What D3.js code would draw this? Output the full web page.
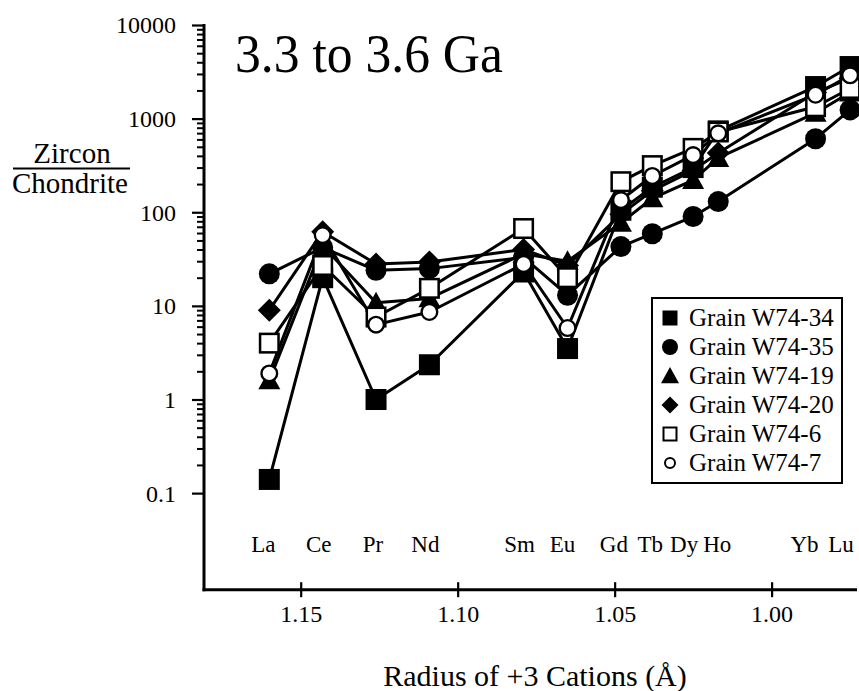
<!DOCTYPE html>
<html>
<head>
<meta charset="utf-8">
<script src="https://cdn.jsdelivr.net/npm/d3@7"></script>
<style>
  html, body { margin: 0; padding: 0; background: #fff; }
  svg { display: block; }
  text { font-family: "Liberation Serif", "Times New Roman", Times, serif; fill: #000; }
</style>
</head>
<body>
<svg id="chart" width="859" height="691" font-family='"Liberation Serif", "Times New Roman", Times, serif'></svg>
<script>
// ---------- data ----------
const elements = ["La","Ce","Pr","Nd","Sm","Eu","Gd","Tb","Dy","Ho","Yb","Lu"];
const radii    = [1.160,1.143,1.126,1.109,1.079,1.065,1.048,1.038,1.025,1.017,0.986,0.975];

const seriesNames = ["Grain W74-34","Grain W74-35","Grain W74-19","Grain W74-20","Grain W74-6","Grain W74-7"];
const seriesMarkers = ["filledSquare","filledCircle","filledTriangle","filledDiamond","openSquare","openCircle"];

const w74_34 = [0.14, 20, 1.0, 2.35, 23, 3.5, 105, 185, 300, 740, 2200, 3600];
const w74_35 = [22, 42, 24, 25, 33, 13, 43, 59, 90, 130, 610, 1240];
const w74_19 = [1.6, 44, 10.8, 12, 36, 30, 77, 141, 221, 380, 1150, 1900];
const w74_20 = [9, 62, 28, 29.5, 40, 27, 95, 170, 280, 430, 1900, 2700];
const w74_6  = [4.0, 27, 7.6, 15.4, 67, 20, 212, 315, 481, 720, 1340, 2100];
const w74_7  = [1.9, 57, 6.3, 8.6, 28, 5.8, 135, 244, 408, 697, 1800, 2900];
const seriesValues = [w74_34, w74_35, w74_19, w74_20, w74_6, w74_7];

const xTickValues = [1.15, 1.10, 1.05, 1.00];
const xTickLabels = ["1.15", "1.10", "1.05", "1.00"];
const yTickValues = [0.1, 1, 10, 100, 1000, 10000];
const yTickLabels = ["0.1", "1", "10", "100", "1000", "10000"];

const titleText = "3.3 to 3.6 Ga";
const xTitle = "Radius of +3 Cations (Å)";
const yTitleTop = "Zircon";
const yTitleBottom = "Chondrite";

// ---------- layout ----------
const FONT = '"Liberation Serif", "Times New Roman", Times, serif';
const svg = d3.select("#chart");
const axisLeftX = 204, axisRightX = 857, axisTopY = 24, axisBottomY = 589.7;

const x = d3.scaleLinear().domain([1.1808, 0.9728]).range([axisLeftX, axisRightX]);
const y = d3.scaleLog().domain([0.0093, 10000]).range([axisBottomY, 25]);

// label horizontal nudges (layout only), in px relative to the element's position
const labelNudge = [-6, -4, -3, -4, -4, -5, -7, -2, -9, -1, -11, -9];

// ---------- y axis ----------
const minorTicks = [];
for (let e = -1; e <= 3; e++) for (let k = 2; k <= 9; k++) minorTicks.push(k * Math.pow(10, e));

const yMinor = svg.append("g").attr("transform", `translate(${axisLeftX},0)`)
  .call(d3.axisLeft(y).tickValues(minorTicks).tickSize(7).tickFormat(""));
yMinor.select(".domain").remove();
yMinor.selectAll("line").attr("stroke", "#000").attr("stroke-width", 2);

const yMajor = svg.append("g").attr("transform", `translate(${axisLeftX},0)`)
  .call(d3.axisLeft(y).tickValues(yTickValues).tickSize(12).tickPadding(16)
    .tickFormat((d, i) => yTickLabels[i]));
yMajor.attr("font-family", FONT);
yMajor.select(".domain").remove();
yMajor.selectAll("line").attr("stroke", "#000").attr("stroke-width", 2.2);
yMajor.selectAll("text").attr("font-size", 24).attr("dy", "0.33em").attr("font-family", FONT);

// ---------- x axis ----------
const xAx = svg.append("g").attr("transform", `translate(0,${axisBottomY})`)
  .call(d3.axisBottom(x).tickValues(xTickValues).tickSize(7.5).tickPadding(8)
    .tickFormat((d, i) => xTickLabels[i]));
xAx.attr("font-family", FONT);
xAx.select(".domain").remove();
xAx.selectAll("line").attr("y1", -7.5).attr("y2", 7.5).attr("stroke", "#000").attr("stroke-width", 2.2);
xAx.selectAll("text").attr("font-size", 24).attr("dy", "0.71em").attr("font-family", FONT);

// axis lines
svg.append("line").attr("x1", axisLeftX).attr("x2", axisLeftX)
  .attr("y1", axisTopY).attr("y2", axisBottomY + 1.5)
  .attr("stroke", "#000").attr("stroke-width", 3);
svg.append("line").attr("x1", axisLeftX - 1.5).attr("x2", axisRightX)
  .attr("y1", axisBottomY).attr("y2", axisBottomY)
  .attr("stroke", "#000").attr("stroke-width", 3);

// element labels
svg.append("g").selectAll("text").data(elements).join("text")
  .attr("x", (d, i) => x(radii[i]) + labelNudge[i])
  .attr("y", 552)
  .attr("text-anchor", "middle")
  .attr("font-size", 23)
  .attr("font-family", FONT)
  .text(d => d);

// titles
svg.append("text").attr("x", 235).attr("y", 72).attr("font-size", 54)
  .attr("font-family", FONT)
  .attr("textLength", 268).attr("lengthAdjust", "spacingAndGlyphs")
  .text(titleText);

svg.append("text").attr("x", 535).attr("y", 686).attr("text-anchor", "middle")
  .attr("font-family", FONT).attr("font-size", 30).text(xTitle);

svg.append("text").attr("x", 72).attr("y", 163).attr("text-anchor", "middle")
  .attr("font-family", FONT).attr("font-size", 29).text(yTitleTop);
svg.append("line").attr("x1", 13).attr("x2", 130).attr("y1", 168.5).attr("y2", 168.5)
  .attr("stroke", "#000").attr("stroke-width", 2);
svg.append("text").attr("x", 70).attr("y", 193).attr("text-anchor", "middle")
  .attr("font-family", FONT).attr("font-size", 29).text(yTitleBottom);

// ---------- markers ----------
function drawMarker(g, type, cx, cy, s) {
  switch (type) {
    case "filledSquare":
      g.append("rect").attr("x", cx - s / 2).attr("y", cy - s / 2)
        .attr("width", s).attr("height", s).attr("fill", "#000");
      break;
    case "openSquare": {
      const sw = Math.max(2, s * 0.12), a = s - sw;
      g.append("rect").attr("x", cx - a / 2).attr("y", cy - a / 2)
        .attr("width", a).attr("height", a).attr("fill", "#fff")
        .attr("stroke", "#000").attr("stroke-width", sw);
      break;
    }
    case "filledCircle":
      g.append("circle").attr("cx", cx).attr("cy", cy).attr("r", s / 2).attr("fill", "#000");
      break;
    case "openCircle": {
      const sw = Math.max(2, s * 0.13);
      g.append("circle").attr("cx", cx).attr("cy", cy).attr("r", (s - sw) / 2)
        .attr("fill", "#fff").attr("stroke", "#000").attr("stroke-width", sw);
      break;
    }
    case "filledDiamond": {
      const h = s / 2;
      g.append("path").attr("d", `M${cx},${cy - h}L${cx + h},${cy}L${cx},${cy + h}L${cx - h},${cy}Z`)
        .attr("fill", "#000");
      break;
    }
    case "filledTriangle": {
      const h = s * 0.9, w = s;
      g.append("path")
        .attr("d", `M${cx},${cy - h * 0.55}L${cx + w / 2},${cy + h * 0.45}L${cx - w / 2},${cy + h * 0.45}Z`)
        .attr("fill", "#000");
      break;
    }
  }
}

const dataSizes = { filledSquare: 21, openSquare: 21, filledCircle: 21, openCircle: 18, filledDiamond: 23, filledTriangle: 22 };
const legendSizes = { filledSquare: 15, openSquare: 15, filledCircle: 16, openCircle: 12, filledDiamond: 17, filledTriangle: 18 };

// ---------- lines ----------
const line = d3.line().x((d, i) => x(radii[i])).y(d => y(d));
const linesG = svg.append("g");
seriesValues.forEach(vals => {
  linesG.append("path").attr("d", line(vals))
    .attr("fill", "none").attr("stroke", "#000").attr("stroke-width", 3)
    .attr("stroke-linejoin", "round");
});

// ---------- points ----------
const ptsG = svg.append("g");
seriesValues.forEach((vals, si) => {
  const type = seriesMarkers[si];
  vals.forEach((v, i) => drawMarker(ptsG, type, x(radii[i]), y(v), dataSizes[type]));
});

// ---------- legend ----------
const lg = svg.append("g");
lg.append("rect").attr("x", 652).attr("y", 298).attr("width", 190).attr("height", 185)
  .attr("fill", "#fff").attr("stroke", "#000").attr("stroke-width", 2);
seriesNames.forEach((name, i) => {
  const cy = 318 + i * 29;
  const type = seriesMarkers[i];
  drawMarker(lg, type, 670, cy, legendSizes[type]);
  lg.append("text").attr("x", 689).attr("y", cy + 8).attr("font-size", 25)
    .attr("font-family", FONT).text(name);
});
</script>
</body>
</html>
